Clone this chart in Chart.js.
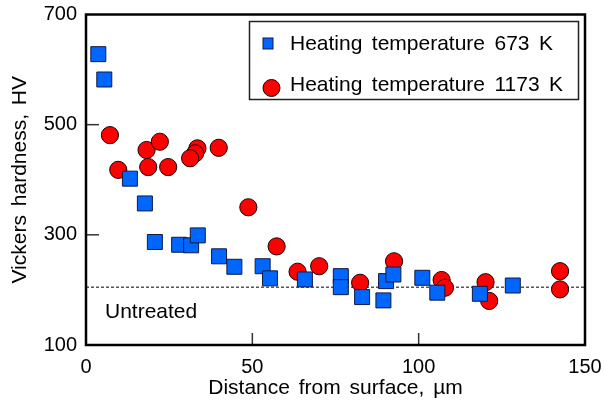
<!DOCTYPE html>
<html><head><meta charset="utf-8">
<script src="https://cdn.jsdelivr.net/npm/chart.js@4.4.0/dist/chart.umd.min.js"></script>
<style>html,body{margin:0;padding:0;background:#fff;} canvas{display:block;}</style>
</head><body>
<canvas id="c" width="605" height="408"></canvas>
<script>
const seriesLabels = ['Heating temperature 673 K', 'Heating temperature 1173 K'];
const x673 = [3.7, 5.5, 13.2, 17.7, 20.7, 28.0, 31.6, 33.6, 40.0, 44.6, 53.1, 55.3, 65.8, 76.6, 76.6, 83.0, 89.4, 90.2, 92.4, 101.1, 105.6, 118.4, 128.3];
const y673 = [628, 582, 402, 357, 287, 282, 281, 299, 261, 242, 243, 221, 219, 225, 205, 187, 181, 216, 228, 222, 195, 193, 208];
const x1173 = [7.2, 9.7, 18.2, 22.2, 18.7, 24.7, 33.5, 32.8, 31.3, 39.9, 48.8, 57.3, 63.6, 70.1, 82.4, 92.6, 106.9, 107.9, 120.1, 121.2, 142.5, 142.5];
const y1173 = [481, 418, 454, 469, 423, 423, 457, 448, 439, 458, 350, 279, 233, 243, 213, 252, 218, 204, 214, 180, 234, 201];
const untreatedHV = 205;
const untreatedLabel = 'Untreated';
const xTicks = [0, 50, 100, 150];
const yTicks = [100, 300, 500, 700];
const xTitle = 'Distance from surface, µm';
const yTitle = 'Vickers hardness, HV';

const FONT = "Arial, 'Liberation Sans', sans-serif";
const BLUE = '#0066ff', BLUE_EDGE = '#101a40', RED = '#ff0000', RED_EDGE = '#1a0000';

const toPts = (xs, ys) => xs.map((x, i) => ({x, y: ys[i]}));

const decor = {
  id: 'decor',
  beforeDraw(chart) {
    try { chart.ctx.wordSpacing = '3px'; } catch (e) {}
  },
  afterDraw(chart) {
    const {ctx, chartArea: a, scales: {x, y}} = chart;
    ctx.save();
    ctx.strokeStyle = '#333'; ctx.lineWidth = 1.5;
    yTicks.forEach(v => {
      if (v === y.min || v === y.max) return;
      const py = y.getPixelForValue(v);
      ctx.beginPath(); ctx.moveTo(a.left, py); ctx.lineTo(a.left + 13, py); ctx.stroke();
    });
    xTicks.forEach(v => {
      if (v === x.min || v === x.max) return;
      const px = x.getPixelForValue(v);
      ctx.beginPath(); ctx.moveTo(px, a.bottom); ctx.lineTo(px, a.bottom - 12); ctx.stroke();
    });
    ctx.strokeStyle = '#000'; ctx.lineWidth = 2.5;
    ctx.strokeRect(a.left, a.top, a.right - a.left, a.bottom - a.top);
    ctx.fillStyle = '#000'; ctx.font = '21px ' + FONT;
    ctx.textBaseline = 'middle'; ctx.textAlign = 'left';
    ctx.fillText(untreatedLabel, a.left + 19, y.getPixelForValue(untreatedHV) + 25);
    ctx.strokeStyle = '#222'; ctx.lineWidth = 1.5;
    ctx.strokeRect(249.5, 21.5, 329, 78);
    try { ctx.wordSpacing = '3.6px'; } catch (e) {}
    ctx.font = '21px ' + FONT;
    ctx.fillStyle = BLUE; ctx.strokeStyle = BLUE_EDGE; ctx.lineWidth = 1;
    ctx.fillRect(263, 38, 10, 11); ctx.strokeRect(263, 38, 10, 11);
    ctx.fillStyle = '#000';
    ctx.fillText(chart.data.datasets[0].label, 290, 44);
    ctx.beginPath(); ctx.arc(271.5, 88, 8.5, 0, Math.PI * 2);
    ctx.fillStyle = RED; ctx.fill(); ctx.strokeStyle = RED_EDGE; ctx.stroke();
    ctx.fillStyle = '#000';
    ctx.fillText(chart.data.datasets[1].label, 290, 85);
    ctx.restore();
  }
};

new Chart(document.getElementById('c'), {
  type: 'scatter',
  data: {
    datasets: [
      { label: seriesLabels[0], data: toPts(x673, y673), pointStyle: 'rect', pointRadius: 10.6,
        backgroundColor: BLUE, borderColor: BLUE_EDGE, borderWidth: 1, order: 1 },
      { label: seriesLabels[1], data: toPts(x1173, y1173), pointStyle: 'circle', pointRadius: 8.6,
        backgroundColor: RED, borderColor: RED_EDGE, borderWidth: 1, order: 2 },
      { type: 'line', label: untreatedLabel, data: [{x: xTicks[0], y: untreatedHV}, {x: xTicks[xTicks.length - 1], y: untreatedHV}],
        borderColor: '#000', borderWidth: 1, borderDash: [3, 2], pointRadius: 0, fill: false, order: 10 }
    ]
  },
  options: {
    responsive: false, animation: false, devicePixelRatio: 1,
    layout: { padding: { top: 14.5, right: 20, left: 0, bottom: 0 } },
    plugins: { legend: { display: false }, tooltip: { enabled: false } },
    scales: {
      x: {
        type: 'linear', min: xTicks[0], max: xTicks[xTicks.length - 1],
        afterBuildTicks: s => { s.ticks = xTicks.map(v => ({value: v})); },
        afterFit: s => { s.height = 63; s.paddingLeft = 0; s.paddingRight = 0; s.paddingTop = 0; s.paddingBottom = 0; },
        grid: { display: false, drawTicks: false },
        border: { display: false },
        ticks: { padding: 10, color: '#000', font: { family: FONT, size: 20 }, maxRotation: 0 },
        title: { display: true, text: xTitle, color: '#000', font: { family: FONT, size: 21 }, padding: { top: 0, bottom: 7 } }
      },
      y: {
        type: 'linear', min: yTicks[0], max: yTicks[yTicks.length - 1],
        afterBuildTicks: s => { s.ticks = yTicks.map(v => ({value: v})); },
        afterFit: s => { s.width = 86; s.paddingLeft = 0; s.paddingRight = 0; s.paddingTop = 0; s.paddingBottom = 0; },
        grid: { display: false, drawTicks: false },
        border: { display: false },
        ticks: { padding: 9, color: '#000', font: { family: FONT, size: 20 } },
        title: { display: true, text: yTitle, color: '#000', font: { family: FONT, size: 21 }, padding: { top: 8, bottom: 0 } }
      }
    }
  },
  plugins: [decor]
});
</script>
</body></html>
